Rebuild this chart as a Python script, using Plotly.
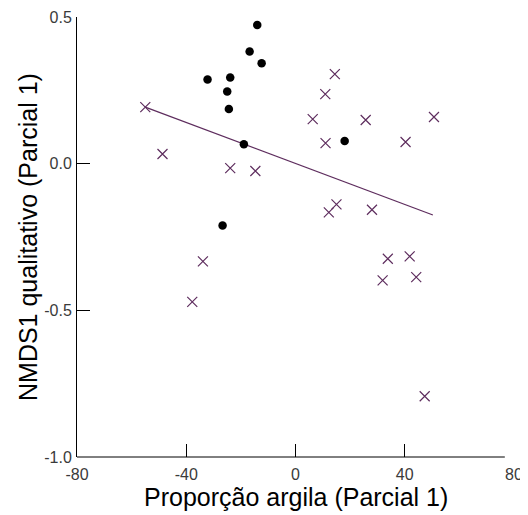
import plotly.graph_objects as go

# Filled circles (group 1)
circle_x = [-14.0, -16.8, -12.4, -32.2, -23.9, -25.0, -24.4, -18.9, -26.7, 18.0]
circle_y = [0.473, 0.382, 0.342, 0.287, 0.294, 0.246, 0.186, 0.066, -0.211, 0.077]

# Crosses (group 2)
cross_x = [-55.0, -48.7, -23.9, -14.7, 14.4, 10.9, 6.3, 25.7, 50.7, 11.0, 40.3,
           15.0, 12.2, 28.0, 33.8, 41.8, 31.9, 44.2, -33.9, -37.8, 47.3]
cross_y = [0.193, 0.033, -0.015, -0.025, 0.305, 0.237, 0.152, 0.149, 0.159, 0.070, 0.074,
           -0.139, -0.166, -0.157, -0.324, -0.316, -0.398, -0.387, -0.333, -0.471, -0.793]

# Fitted line endpoints
fit_x = [-55.0, 50.3]
fit_y = [0.193, -0.175]

x_ticks = [-80, -40, 0, 40, 80]
y_ticks = [-1.0, -0.5, 0.0, 0.5]
y_tick_labels = ["-1.0", "-0.5", "0.0", "0.5"]

purple = "#5e2d5e"
tick_font = dict(family="Liberation Sans, Arial, sans-serif", size=16, color="#3a3a3a")
title_font = dict(family="Liberation Sans, Arial, sans-serif", size=25, color="black")

fig = go.Figure()
fig.add_trace(go.Scatter(x=fit_x, y=fit_y, mode="lines",
                         line=dict(color=purple, width=1.3), hoverinfo="skip"))
fig.add_trace(go.Scatter(x=cross_x, y=cross_y, mode="markers",
                         marker=dict(symbol="x-thin-open", size=10, color=purple,
                                     line=dict(color=purple, width=1.2))))
fig.add_trace(go.Scatter(x=circle_x, y=circle_y, mode="markers",
                         marker=dict(symbol="circle", size=8.5, color="black",
                                     line=dict(width=0))))

axis_common = dict(showgrid=False, zeroline=False, linecolor="black",
                   linewidth=1, ticks="inside", ticklen=13, tickwidth=1, tickcolor="black",
                   tickfont=tick_font, automargin=False)

fig.update_layout(
    width=520, height=507,
    margin=dict(l=69, r=14, t=9, b=58),
    paper_bgcolor="white", plot_bgcolor="white",
    showlegend=False,
    xaxis=dict(range=[-80, 80], tickvals=x_ticks, ticktext=[str(v) for v in x_ticks],
               showline=False, ticklabelstandoff=6, **axis_common),
    yaxis=dict(range=[-1.0, 0.5], tickvals=y_ticks, ticktext=y_tick_labels,
               showline=True, ticklabelstandoff=1, **axis_common),
    shapes=[dict(type="line", xref="paper", yref="paper", x0=0, x1=0.979, y0=0, y1=0,
                 line=dict(color="black", width=1))],
    annotations=[
        dict(text="Proporção argila (Parcial 1)", xref="paper", yref="paper",
             x=0.502, y=0, yshift=-40, xanchor="center", yanchor="middle",
             showarrow=False, font=title_font),
        dict(text="NMDS1 qualitativo (Parcial 1)", xref="paper", yref="paper",
             x=0, xshift=-49, y=0.5, xanchor="center", yanchor="middle", textangle=-90,
             showarrow=False, font=title_font),
    ],
)

fig.write_html("out.html")
